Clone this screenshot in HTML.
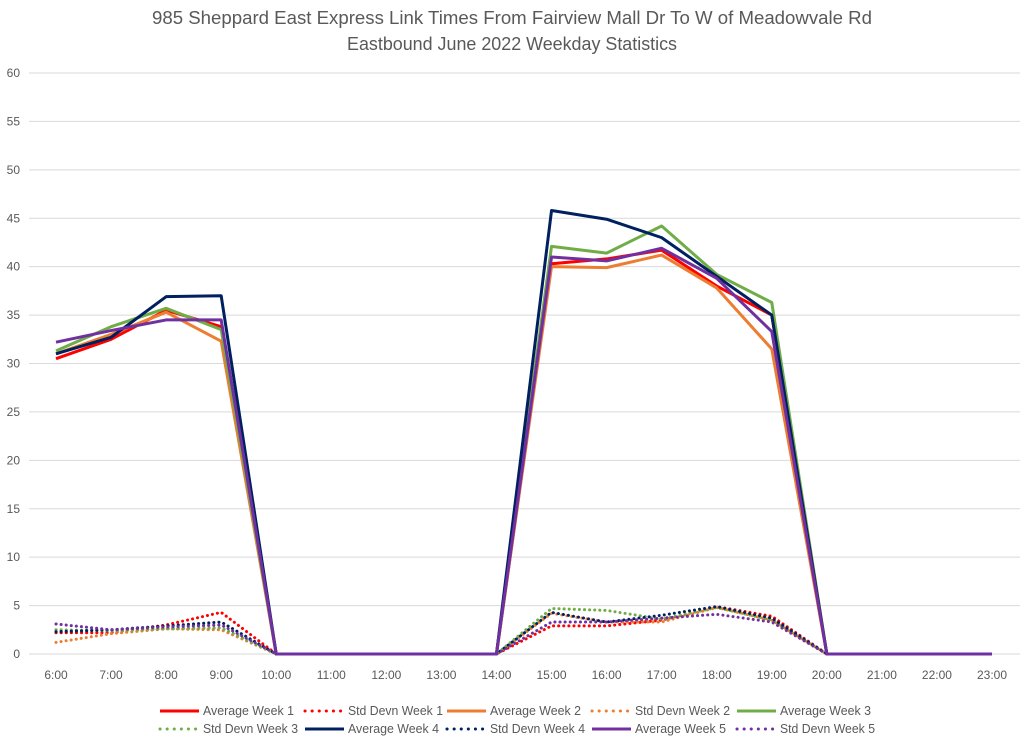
<!DOCTYPE html>
<html><head><meta charset="utf-8"><style>
body{margin:0;background:#fff;font-family:"Liberation Sans",sans-serif;}
svg text{font-family:"Liberation Sans",sans-serif;}
</style></head><body>
<svg id="chart" width="1024" height="743">
<text x="512" y="24" text-anchor="middle" font-size="18" fill="#595959" textLength="720" lengthAdjust="spacingAndGlyphs">985 Sheppard East Express Link Times From Fairview Mall Dr To W of Meadowvale Rd</text>
<text x="512" y="50" text-anchor="middle" font-size="18" fill="#595959" textLength="330" lengthAdjust="spacingAndGlyphs">Eastbound June 2022 Weekday Statistics</text>
<g id="grid"></g><g id="series"></g><g id="legend"></g>
</svg>
<script>
const categories=["6:00","7:00","8:00","9:00","10:00","11:00","12:00","13:00","14:00","15:00","16:00","17:00","18:00","19:00","20:00","21:00","22:00","23:00"];
const yTicks=[0,5,10,15,20,25,30,35,40,45,50,55,60];
const avgW1=[30.5,32.5,35.5,33.8,0,0,0,0,0,40.3,40.8,41.7,38,35,0,0,0,0];
const avgW2=[31,33,35.3,32.3,0,0,0,0,0,40,39.9,41.2,37.8,31.5,0,0,0,0];
const avgW3=[31.3,33.8,35.7,33.5,0,0,0,0,0,42.1,41.4,44.2,39.2,36.3,0,0,0,0];
const avgW4=[31,32.7,36.9,37,0,0,0,0,0,45.8,44.9,43,39,35,0,0,0,0];
const avgW5=[32.2,33.4,34.5,34.5,0,0,0,0,0,41,40.6,41.9,38.8,33.3,0,0,0,0];
const sdW1=[2.2,2.2,3,4.3,0,0,0,0,0,2.9,2.9,3.5,4.9,3.9,0,0,0,0];
const sdW2=[1.2,2.1,2.6,2.5,0,0,0,0,0,4.2,3.3,3.3,4.8,3.5,0,0,0,0];
const sdW3=[2.5,2.4,2.6,2.7,0,0,0,0,0,4.7,4.5,3.6,4.8,3.5,0,0,0,0];
const sdW4=[2.3,2.5,2.9,3.3,0,0,0,0,0,4.3,3.3,4,4.9,3.7,0,0,0,0];
const sdW5=[3.1,2.5,2.8,3.0,0,0,0,0,0,3.3,3.3,3.7,4.1,3.3,0,0,0,0];
const NS="http://www.w3.org/2000/svg";
const x=i=>56+i*(992-56)/17;
const y=v=>654-v*(654-73)/60;
function mk(t,a,p){const e=document.createElementNS(NS,t);for(const k in a)e.setAttribute(k,a[k]);p.appendChild(e);return e;}
const grid=document.getElementById('grid');
yTicks.forEach(t=>{
 const l=mk('line',{x1:29,x2:1020,y1:y(t),y2:y(t),stroke:'#d9d9d9','stroke-width':1},grid);
 
 
 const tx=mk('text',{x:20,y:y(t)+4,'text-anchor':'end','font-size':12,fill:'#595959'},grid);tx.textContent=t;
 
 
});
categories.forEach((c,i)=>{
 const tx=mk('text',{x:x(i),y:679,'text-anchor':'middle','font-size':12,fill:'#595959'},grid);tx.textContent=c;
 
 
});
const defs=[
 ["Std Devn Week 1",sdW1,"#ff0000",true],["Std Devn Week 2",sdW2,"#ed7d31",true],["Std Devn Week 3",sdW3,"#70ad47",true],["Std Devn Week 4",sdW4,"#002060",true],["Std Devn Week 5",sdW5,"#7030a0",true],
 ["Average Week 1",avgW1,"#ff0000",false],["Average Week 2",avgW2,"#ed7d31",false],["Average Week 3",avgW3,"#70ad47",false],["Average Week 4",avgW4,"#002060",false],["Average Week 5",avgW5,"#7030a0",false]];
const sg=document.getElementById('series');
defs.forEach(d=>{
 const p=mk('polyline',{points:d[1].map((v,i)=>x(i)+','+y(v)).join(' '),fill:'none',stroke:d[2],'stroke-width':3,'stroke-linejoin':'round'},sg);
 if(d[3]){p.setAttribute('stroke-dasharray','0.1 5');p.setAttribute('stroke-linecap','round');}
 
 
});
const order=[5,0,6,1,7,2,8,3,9,4];
const tx0=[203,348,490,635,780];
const lg=document.getElementById('legend');
order.forEach((k,j)=>{
 const d=defs[k];const row=j<5?0:1;const col=j%5;
 const t0=tx0[col];const yy=row?729:711;
 const l=mk('line',{x1:t0-43,x2:t0-4,y1:yy,y2:yy,stroke:d[2],'stroke-width':3},lg);
 if(d[3]){l.setAttribute('stroke-dasharray','0.1 7');l.setAttribute('stroke-linecap','round');l.setAttribute('x2',t0-7);}
 
 
 const t=mk('text',{x:t0,y:yy+4,'font-size':12.5,fill:'#595959',textLength:d[3]?95:91,lengthAdjust:'spacingAndGlyphs'},lg);t.textContent=d[0];
 
 
});
</script>
</body></html>
